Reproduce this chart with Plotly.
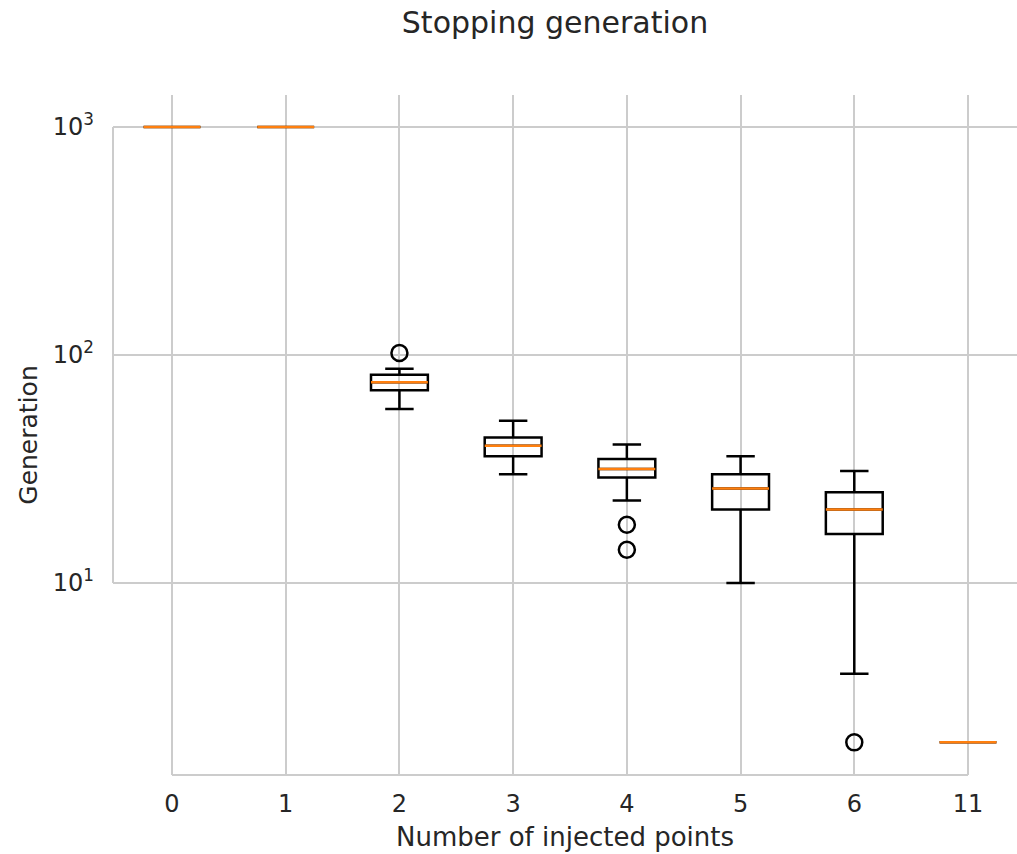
import plotly.graph_objects as go

# ---- data ----
categories = ["0", "1", "2", "3", "4", "5", "6", "11"]
q1_vals = [1000, 1000, 70, 36, 29, 21, 16.4, 2]
median_vals = [1000, 1000, 76, 40, 31.6, 26, 21, 2]
q3_vals = [1000, 1000, 82, 43.5, 35, 30, 25, 2]
whisker_low = [1000, 1000, 58, 30, 23, 10, 4, 2]
whisker_high = [1000, 1000, 87, 51.5, 40.5, 36, 31, 2]
outlier_cats = ["2", "4", "4", "6"]
outlier_vals = [102, 18, 14, 2]
ytick_vals = [10, 100, 1000]
ytick_text = ["10<sup>1</sup>", "10<sup>2</sup>", "10<sup>3</sup>"]

# ---- layout/style ----
positions = list(range(1, len(categories) + 1))
pos_of = dict(zip(categories, positions))
box_w = 0.5
grid_col = "#cccccc"
text_col = "#262626"
font_fam = "DejaVu Sans"

fig = go.Figure()

fig.add_trace(go.Box(
    x=positions, q1=q1_vals, median=median_vals, q3=q3_vals,
    lowerfence=whisker_low, upperfence=whisker_high,
    width=box_w, whiskerwidth=0.5, boxpoints=False,
    line=dict(color="black", width=2.5), fillcolor="rgba(0,0,0,0)",
    showlegend=False, hoverinfo="skip",
))

# orange median lines
mx, my = [], []
for p, m in zip(positions, median_vals):
    mx += [p - box_w / 2, p + box_w / 2, None]
    my += [m, m, None]
fig.add_trace(go.Scatter(
    x=mx, y=my, mode="lines", line=dict(color="#ff7f0e", width=2.5),
    showlegend=False, hoverinfo="skip",
))

# outliers
fig.add_trace(go.Scatter(
    x=[pos_of[c] for c in outlier_cats], y=outlier_vals, mode="markers",
    marker=dict(symbol="circle-open", size=16, color="black", line=dict(width=2.5, color="black")),
    showlegend=False, hoverinfo="skip",
))

W, H = 1017, 854
L, R, T, B = 113, 0, 95, 79
plot_w = W - L - R
px_per_unit = (968 - 172) / (positions[-1] - positions[0])
x_lo = positions[0] - (172 - L) / px_per_unit
x_hi = x_lo + plot_w / px_per_unit

px_per_dec = 228.0
plot_h = H - T - B
y_top = 3 + (127 - T) / px_per_dec
y_bot = y_top - plot_h / px_per_dec


def xpaper(v):
    return (v - x_lo) / (x_hi - x_lo)


fig.update_layout(
    width=W, height=H,
    margin=dict(l=L, r=R, t=T, b=B, autoexpand=False),
    paper_bgcolor="white", plot_bgcolor="white",
    font=dict(family=font_fam, color=text_col, size=24),
    title=dict(text="Stopping generation", font=dict(size=30, color=text_col),
               xref="container", x=555 / W, xanchor="center",
               yref="container", y=1 - 22 / H, yanchor="middle"),
    xaxis=dict(
        range=[x_lo, x_hi], tickmode="array", tickvals=positions, ticktext=categories,
        showgrid=True, gridcolor=grid_col, gridwidth=1.8, zeroline=False,
        showline=False, ticks="", ticklabelstandoff=12,
        tickfont=dict(size=24, color=text_col),
        title=dict(text="Number of injected points", font=dict(size=26, color=text_col), standoff=10),
    ),
    yaxis=dict(
        type="log", range=[y_bot, y_top], tickmode="array", tickvals=ytick_vals, ticktext=ytick_text,
        showgrid=True, gridcolor=grid_col, gridwidth=1.8, zeroline=False,
        showline=False, ticks="", ticklabelstandoff=18,
        tickfont=dict(size=24, color=text_col),
        title=dict(text="Generation", font=dict(size=25, color=text_col), standoff=8),
    ),
    shapes=[
        # trimmed left spine (between first and last y tick)
        dict(type="line", xref="paper", yref="y", x0=0, x1=0,
             y0=ytick_vals[0], y1=ytick_vals[-1],
             line=dict(color=grid_col, width=2), layer="below"),
        # trimmed bottom spine (between first and last category)
        dict(type="line", xref="paper", yref="paper",
             x0=xpaper(positions[0]), x1=xpaper(positions[-1]),
             y0=0, y1=0, line=dict(color=grid_col, width=2), layer="below"),
    ],
)

fig.write_html("out.html")
